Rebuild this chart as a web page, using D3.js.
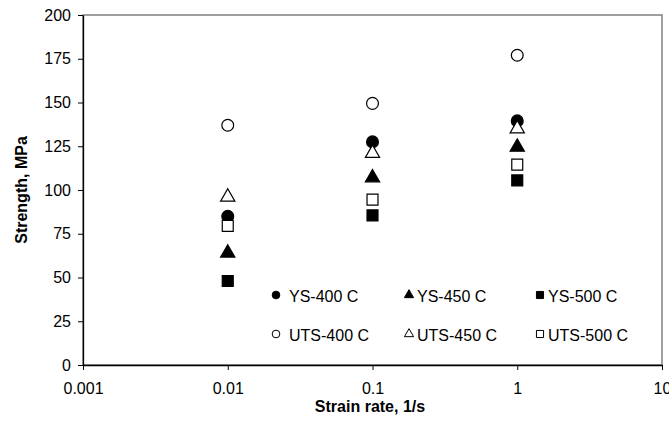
<!DOCTYPE html>
<html>
<head>
    <title>Strength vs strain rate</title>
    <script src="https://d3js.org/d3.v7.min.js"></script>
    <style>
        body { margin: 0; background: #fff; }
        text { font-family: "Liberation Sans", Arial, sans-serif; }
    </style>
</head>
<body>
    <div id="chart"></div>
    <script>
        // strain rates (1/s)
        const rates = [0.01, 0.1, 1];

        // strength values, MPa
        const ys400 = [85, 127.5, 139.5];
        const ys450 = [64, 107, 124.5];
        const ys500 = [48, 85.5, 105.5];
        const uts400 = [137, 149.5, 177];
        const uts450 = [96, 121, 135];
        const uts500 = [79.5, 94.5, 114.5];

        const xTicks = [0.001, 0.01, 0.1, 1, 10];
        const yTicks = [0, 25, 50, 75, 100, 125, 150, 175, 200];

        const series = [
            { name: "YS-400 C", values: ys400, shape: d3.symbolCircle, fill: "#000" },
            { name: "YS-450 C", values: ys450, shape: d3.symbolTriangle, fill: "#000" },
            { name: "YS-500 C", values: ys500, shape: d3.symbolSquare, fill: "#000" },
            { name: "UTS-400 C", values: uts400, shape: d3.symbolCircle, fill: "#fff" },
            { name: "UTS-450 C", values: uts450, shape: d3.symbolTriangle, fill: "#fff" },
            { name: "UTS-500 C", values: uts500, shape: d3.symbolSquare, fill: "#fff" }
        ];

        const width = 669, height = 421;
        const margin = { left: 83, right: 7, top: 15, bottom: 56 };

        const svg = d3.select("#chart").append("svg")
            .attr("width", width)
            .attr("height", height);

        const x = d3.scaleLog().domain([0.001, 10]).range([margin.left, width - margin.right]);
        const y = d3.scaleLinear().domain([0, 200]).range([height - margin.bottom, margin.top]);

        // plot frame (top and right in grey)
        svg.append("rect")
            .attr("x", margin.left)
            .attr("y", margin.top)
            .attr("width", x(10) - margin.left)
            .attr("height", y(0) - margin.top)
            .attr("fill", "none")
            .attr("stroke", "#808080")
            .attr("stroke-width", 1.5);

        const xAxis = svg.append("g")
            .attr("transform", `translate(0,${y(0)})`)
            .call(d3.axisBottom(x).tickValues(xTicks).tickFormat(d => String(d)).tickSize(5).tickSizeOuter(0));
        xAxis.select(".domain").attr("stroke", "#000").attr("stroke-width", 1.3);
        xAxis.selectAll("text").attr("font-size", 16).attr("y", 18).attr("fill", "#000");

        const yAxis = svg.append("g")
            .attr("transform", `translate(${margin.left},0)`)
            .call(d3.axisLeft(y).tickValues(yTicks).tickSize(5).tickSizeOuter(0));
        yAxis.select(".domain").attr("stroke", "#000").attr("stroke-width", 1.3);
        yAxis.selectAll("text").attr("font-size", 16).attr("x", -12).attr("fill", "#000");

        // axis titles
        svg.append("text")
            .attr("x", 370)
            .attr("y", 412)
            .attr("text-anchor", "middle")
            .attr("font-size", 16)
            .attr("font-weight", "bold")
            .text("Strain rate, 1/s");

        svg.append("text")
            .attr("transform", `translate(27,${(y(0) + y(200)) / 2}) rotate(-90)`)
            .attr("text-anchor", "middle")
            .attr("font-size", 16)
            .attr("font-weight", "bold")
            .text("Strength, MPa");

        function markSize(shape) {
            return shape === d3.symbolCircle ? 110 : shape === d3.symbolTriangle ? 88 : 120;
        }

        // data points
        series.forEach(s => {
            svg.append("g").selectAll("path")
                .data(s.values.map((v, i) => ({ r: rates[i], v: v })))
                .join("path")
                .attr("transform", d => `translate(${x(d.r)},${y(d.v)})`)
                .attr("d", d3.symbol().type(s.shape).size(markSize(s.shape)))
                .attr("fill", s.fill)
                .attr("stroke", "#000")
                .attr("stroke-width", 1.2);
        });

        // legend: 3 columns, 2 rows
        const legCols = [276, 409, 540];
        const legText = [289, 417, 548];
        const legRows = [295, 334];
        series.forEach((s, i) => {
            const c = i % 3, r = Math.floor(i / 3);
            const cx = legCols[c], cy = legRows[r];
            svg.append("path")
                .attr("transform", `translate(${cx},${cy})`)
                .attr("d", d3.symbol().type(s.shape).size(markSize(s.shape) * 0.42))
                .attr("fill", s.fill)
                .attr("stroke", "#000")
                .attr("stroke-width", 1);
            svg.append("text")
                .attr("x", legText[c])
                .attr("y", cy + 7)
                .attr("font-size", 16)
                .text(s.name);
        });
    </script>
</body>
</html>
